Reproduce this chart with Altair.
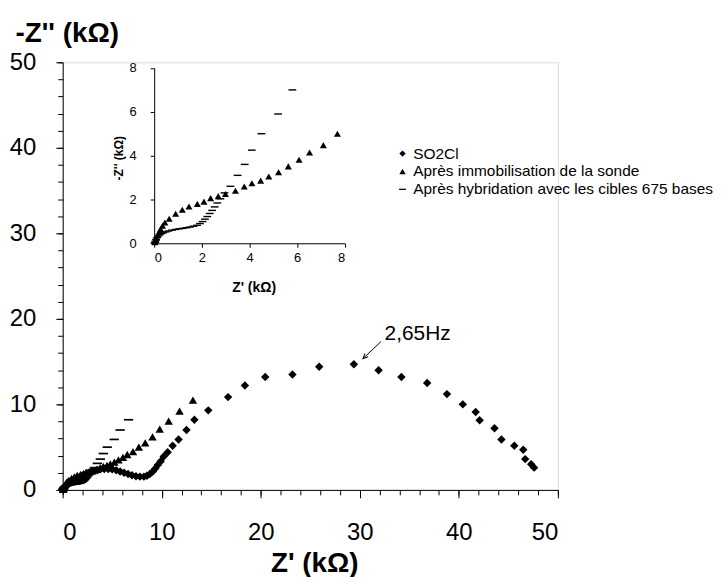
import altair as alt
import pandas as pd

# ---------------- data (kΩ) ----------------
series_names = ["SO2Cl", "Après immobilisation de la sonde",
                "Après hybridation avec les cibles 675 bases"]

so2_x = [0.05, 0.1, 0.15, 0.2, 0.3, 0.4, 0.5, 0.65, 0.8, 1.0, 1.2, 1.45, 1.7, 2.0,
         2.3, 2.6, 2.9, 3.2, 3.5, 3.8, 4.2, 4.6, 5.0, 5.4, 5.8, 6.2, 6.6, 7.0, 7.4,
         7.8, 8.2, 8.5, 8.8, 9.1, 9.35, 9.6, 9.9, 10.2, 10.6, 11.1, 11.7, 12.5, 13.3,
         14.7, 16.7, 18.4, 20.45, 23.2, 25.9, 29.4, 31.9, 34.2, 36.8, 38.8, 40.4,
         41.7, 42.1, 43.6, 44.3, 45.6, 46.5, 46.7, 47.3, 47.6]
so2_y = [0.05, 0.15, 0.25, 0.35, 0.5, 0.62, 0.75, 0.88, 1.0, 1.1, 1.22, 1.35, 1.5, 1.65,
         1.8, 1.95, 2.1, 2.2, 2.3, 2.4, 2.45, 2.45, 2.4, 2.3, 2.15, 2.0, 1.85, 1.7, 1.6,
         1.55, 1.55, 1.65, 1.85, 2.15, 2.5, 2.9, 3.35, 3.9, 4.4, 5.15, 5.9, 7.0, 8.2,
         9.3, 10.85, 12.2, 13.2, 13.5, 14.4, 14.7, 14.0, 13.2, 12.5, 11.2, 10.0,
         9.1, 8.15, 7.2, 5.9, 5.15, 4.7, 3.6, 3.0, 2.6]

imm_x = [0.03, 0.07, 0.1, 0.15, 0.2, 0.27, 0.35, 0.45, 0.63, 0.9, 1.18, 1.46, 1.81,
         2.09, 2.37, 2.69, 2.99, 3.41, 3.78, 4.1, 4.47, 4.81, 5.22, 5.63, 6.08, 6.52,
         7.1, 7.69, 8.33, 9.07, 9.8, 10.7, 11.8, 13.15]
imm_y = [0.05, 0.15, 0.25, 0.38, 0.5, 0.65, 0.8, 0.95, 1.12, 1.35, 1.53, 1.68, 1.8,
         1.9, 2.06, 2.15, 2.25, 2.4, 2.59, 2.74, 2.86, 3.05, 3.24, 3.51, 3.81, 4.14,
         4.48, 5.0, 5.5, 6.2, 7.1, 8.05, 9.2, 10.5]

hyb_x = [0.02, 0.05, 0.08, 0.12, 0.17, 0.23, 0.3, 0.38, 0.48, 0.6, 0.75, 0.9, 1.05,
         1.2, 1.35, 1.5, 1.65, 1.8, 1.92, 2.03, 2.13, 2.23, 2.33, 2.43, 2.54, 2.65,
         2.78, 2.95, 3.2, 3.5, 3.8, 4.1, 4.5, 5.2, 5.8, 6.65]
hyb_y = [0.03, 0.1, 0.18, 0.26, 0.33, 0.39, 0.44, 0.48, 0.52, 0.56, 0.6, 0.63, 0.66,
         0.68, 0.71, 0.74, 0.78, 0.82, 0.9, 0.99, 1.1, 1.22, 1.36, 1.5, 1.66, 1.84,
         2.03, 2.3, 2.6, 3.1, 3.6, 4.25, 5.0, 5.9, 7.0, 8.2]

ann_text = ["2,65Hz"]
ann_x = [32.5]
ann_y = [17.5]
arrow_x = [32.13]
arrow_y = [17.33]
arrow_x2 = [30.32]
arrow_y2 = [15.35]

# ---------------- tables ----------------
df = pd.concat([
    pd.DataFrame({"x": so2_x, "y": so2_y, "series": series_names[0]}),
    pd.DataFrame({"x": imm_x, "y": imm_y, "series": series_names[1]}),
    pd.DataFrame({"x": hyb_x, "y": hyb_y, "series": series_names[2]}),
], ignore_index=True)
ann_df = pd.DataFrame({"x": ann_x, "y": ann_y, "t": ann_text})
arrow_df = pd.DataFrame({"x": arrow_x, "y": arrow_y, "x2": arrow_x2, "y2": arrow_y2})

FONT = "Liberation Sans"
W, H = 498, 430
DASH = "M-1.1,-0.2H1.1V0.2H-1.1Z"
HEAD = "M-0.45,1L0,0L0.45,1"

shape_scale = alt.Scale(domain=series_names, range=["diamond", "triangle-up", DASH])
xs_main = alt.Scale(domain=[0, 50], nice=False, zero=False)
ys_main = alt.Scale(domain=[0, 50], nice=False, zero=False)

main = alt.Chart(df).mark_point(filled=True, opacity=1, color="black", size=72).encode(
    x=alt.X("x:Q", scale=xs_main, axis=alt.Axis(
        orient="bottom", values=[0, 10, 20, 30, 40, 50], tickSize=8, labelFontSize=24,
        labelPadding=23, labelFont=FONT, labelColor="black", domainColor="black",
        tickColor="black", grid=False, title="Z' (kΩ)", titleFont=FONT,
        titleFontSize=28, titleFontWeight="bold", titleColor="black",
        titleX=253, titleY=82, titleBaseline="alphabetic", titleAlign="center")),
    y=alt.Y("y:Q", scale=ys_main, axis=alt.Axis(
        orient="left", values=[0, 10, 20, 30, 40, 50], tickSize=7, labelFontSize=24,
        labelPadding=20, labelFont=FONT, labelColor="black", domainColor="black",
        tickColor="black", grid=False, title="-Z'' (kΩ)", titleFont=FONT,
        titleFontSize=28, titleFontWeight="bold", titleColor="black", titleAngle=0,
        titleAlign="left", titleBaseline="alphabetic", titleX=-48, titleY=-21)),
    shape=alt.Shape("series:N", scale=shape_scale, legend=alt.Legend(
        title=None, orient="none", legendX=334, legendY=84, labelFontSize=15.5,
        labelFont=FONT, labelColor="black", symbolSize=40, symbolFillColor="black",
        symbolStrokeColor="black", symbolStrokeWidth=0, rowPadding=1, labelLimit=500,
        labelOffset=3)),
)

minor = alt.Chart(df).mark_point(opacity=0).encode(
    x=alt.X("x:Q", scale=xs_main, axis=alt.Axis(
        orient="bottom", values=list(range(0, 51, 2)), tickSize=5, labels=False,
        domain=False, grid=False, tickColor="black", title=None)),
    y=alt.Y("y:Q", scale=ys_main, axis=alt.Axis(
        orient="left", values=list(range(0, 51, 2)), tickSize=5, labels=False,
        domain=False, grid=False, tickColor="black", title=None)),
)

inset = alt.Chart(df).transform_filter(
    (alt.datum.series != series_names[0]) & (alt.datum.x <= 8) & (alt.datum.y <= 8)
).mark_point(filled=True, opacity=1, color="black", size=50).encode(
    x=alt.X("x:Q", scale=alt.Scale(domain=[0, 8], range=[92, 283.7], nice=False, zero=False),
            axis=alt.Axis(orient="bottom", offset=-248, values=[0, 2, 4, 6, 8], tickSize=4,
                          labelFontSize=13, labelPadding=4, labelFont=FONT, labelColor="black",
                          domainColor="black", tickColor="black", grid=False,
                          title="Z' (kΩ)", titleFont=FONT, titleFontSize=14,
                          titleFontWeight="bold", titleColor="black", titleX=192, titleY=48,
                          titleBaseline="alphabetic", titleAlign="center")),
    y=alt.Y("y:Q", scale=alt.Scale(domain=[0, 8], range=[182, 5.7], nice=False, zero=False),
            axis=alt.Axis(orient="left", offset=-92, values=[0, 2, 4, 6, 8], tickSize=4,
                          labelFontSize=13, labelPadding=14, labelFont=FONT, labelColor="black",
                          domainColor="black", tickColor="black", grid=False,
                          title="-Z'' (kΩ)", titleFont=FONT, titleFontSize=12,
                          titleFontWeight="bold", titleColor="black", titleX=-36, titleY=96,
                          titleBaseline="middle", titleAlign="center", titleAngle=-90)),
    shape=alt.Shape("series:N", scale=shape_scale, legend=None),
)

ann = alt.Chart(ann_df).mark_text(align="left", baseline="alphabetic", fontSize=21,
                                  font=FONT, color="black").encode(
    x=alt.X("x:Q", scale=xs_main, axis=None),
    y=alt.Y("y:Q", scale=ys_main, axis=None),
    text="t:N",
)

arrow = alt.Chart(arrow_df).mark_rule(color="black", strokeWidth=1).encode(
    x=alt.X("x:Q", scale=xs_main, axis=None),
    y=alt.Y("y:Q", scale=ys_main, axis=None),
    x2="x2:Q", y2="y2:Q",
)

head = alt.Chart(arrow_df).mark_point(shape=HEAD, filled=False, color="black",
                                      strokeWidth=1, size=100, angle=225, opacity=1).encode(
    x=alt.X("x2:Q", scale=xs_main, axis=None),
    y=alt.Y("y2:Q", scale=ys_main, axis=None),
)

chart = alt.layer(main, minor, inset, ann, arrow, head).resolve_scale(
    x="independent", y="independent", shape="independent"
).resolve_legend(shape="independent").properties(
    width=W, height=H,
    autosize=alt.AutoSizeParams(type="none"),
    padding={"left": 55, "top": 53, "right": 157, "bottom": 86},
).configure_view(stroke=None).configure(font=FONT)

chart.save("out.html", embed_options={"renderer": "svg", "actions": False})
